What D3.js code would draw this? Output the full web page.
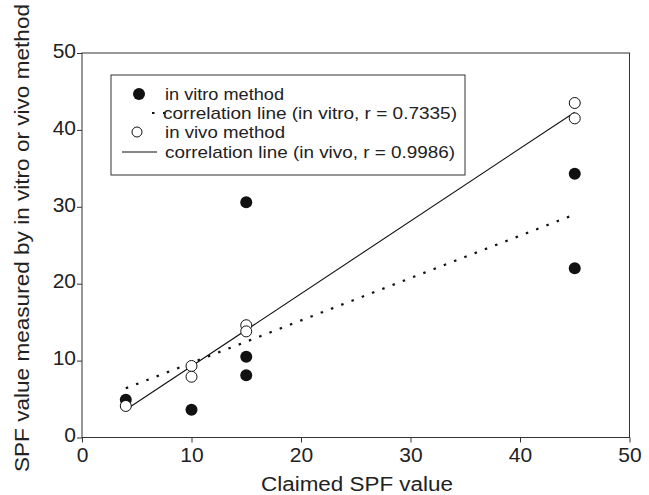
<!DOCTYPE html>
<html><head><meta charset="utf-8">
<script src="https://cdn.jsdelivr.net/npm/d3@7"></script>
<style>html,body{margin:0;padding:0;background:#fff}svg{display:block}text{font-family:"Liberation Sans",Arial,sans-serif;fill:#222}</style>
</head><body><svg id="c" width="649" height="495"></svg>
<script>
const xTicks = [0,10,20,30,40,50];
const yTicks = [0,10,20,30,40,50];
const vitroX = [4,10,15,15,15,45,45];
const vitroY = [4.9,3.6,30.6,10.5,8.1,34.3,22.0];
const vivoX = [4,10,10,15,15,45,45];
const vivoY = [4.1,9.3,7.9,14.6,13.8,43.5,41.5];
const vitroFitX = [4,45];
const vitroFitY = [6.4,29.0];
const vivoFitX = [4,45];
const vivoFitY = [3.6,42.3];
const legendLabels = ["in vitro method","correlation line (in vitro, r = 0.7335)","in vivo method","correlation line (in vivo, r = 0.9986)"];
const xLabel = "Claimed SPF value";
const yLabel = "SPF value measured by in vitro or vivo method";

const svg = d3.select("#c");
const L=82, R=629.5, T=53, B=437.5;
const x = d3.scaleLinear().domain([0,50]).range([L,R]);
const y = d3.scaleLinear().domain([0,50]).range([B,T]);
const ink = "#111", axc="#333";

svg.append("rect").attr("x",L).attr("y",T).attr("width",R-L).attr("height",B-T)
  .attr("fill","none").attr("stroke",axc).attr("stroke-width",1);

const gx = svg.append("g").attr("transform",`translate(0,${B})`)
  .call(d3.axisBottom(x).tickValues(xTicks).tickSize(5).tickPadding(4).tickFormat(d3.format("d")));
const gy = svg.append("g").attr("transform",`translate(${L},0)`)
  .call(d3.axisLeft(y).tickValues(yTicks).tickSize(5).tickPadding(1).tickFormat(d3.format("d")));
[gx,gy].forEach(g=>{
  g.select(".domain").remove();
  g.selectAll(".tick line").attr("stroke",axc);
  g.selectAll(".tick text").attr("font-size",21).attr("fill","#222")
   .style("font-family","'Liberation Sans',Arial,sans-serif");
});
gy.selectAll(".tick text").attr("dy","0.2em");
gx.selectAll(".tick text").attr("dy","0.72em");

const line = d3.line().x(d=>x(d[0])).y(d=>y(d[1]));
svg.append("path").datum(d3.zip(vitroFitX,vitroFitY)).attr("d",line)
  .attr("fill","none").attr("stroke",ink).attr("stroke-width",2.2).attr("stroke-dasharray","2.5,8.5");
svg.append("path").datum(d3.zip(vivoFitX,vivoFitY)).attr("d",line)
  .attr("fill","none").attr("stroke",ink).attr("stroke-width",1.1);

svg.append("g").selectAll("circle").data(d3.zip(vitroX,vitroY)).join("circle")
  .attr("cx",d=>x(d[0])).attr("cy",d=>y(d[1])).attr("r",6).attr("fill",ink);
svg.append("g").selectAll("circle").data(d3.zip(vivoX,vivoY)).join("circle")
  .attr("cx",d=>x(d[0])).attr("cy",d=>y(d[1])).attr("r",5.5).attr("fill","#fff")
  .attr("stroke",ink).attr("stroke-width",1);

const lg = svg.append("g");
lg.append("rect").attr("x",111).attr("y",75).attr("width",354).attr("height",100)
  .attr("fill","#fff").attr("stroke",axc).attr("stroke-width",1);
const rowY = [94,113,132,152];
const txtX = [165,163,165,165];
const txtW = [119,294,120,290];
lg.append("circle").attr("cx",139).attr("cy",rowY[0]).attr("r",6).attr("fill",ink);
lg.append("line").attr("x1",152).attr("x2",168).attr("y1",rowY[1]).attr("y2",rowY[1])
  .attr("stroke",ink).attr("stroke-width",2.2).attr("stroke-dasharray","2.5,8.5");
lg.append("circle").attr("cx",137).attr("cy",rowY[2]).attr("r",5).attr("fill","#fff").attr("stroke",ink);
lg.append("line").attr("x1",122).attr("x2",157).attr("y1",rowY[3]).attr("y2",rowY[3])
  .attr("stroke",ink).attr("stroke-width",1.1);
lg.selectAll("text.l").data(legendLabels).join("text").attr("class","l")
  .attr("x",(d,i)=>txtX[i]).attr("y",(d,i)=>rowY[i]).attr("dy","0.36em")
  .attr("font-size",17).attr("textLength",(d,i)=>txtW[i]).attr("lengthAdjust","spacingAndGlyphs")
  .text(d=>d);

svg.append("text").attr("x",357).attr("y",491).attr("text-anchor","middle")
  .attr("font-size",20).attr("textLength",192).attr("lengthAdjust","spacingAndGlyphs").text(xLabel);
svg.append("text").attr("transform","translate(29,238) rotate(-90)").attr("text-anchor","middle")
  .attr("font-size",20).attr("textLength",468).attr("lengthAdjust","spacingAndGlyphs").text(yLabel);
</script></body></html>
